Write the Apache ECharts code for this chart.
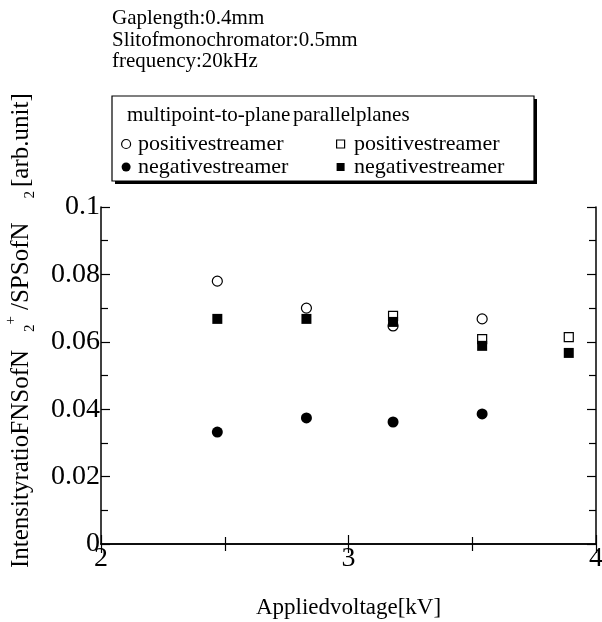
<!DOCTYPE html>
<html>
<head>
<meta charset="utf-8">
<script src="https://cdn.jsdelivr.net/npm/echarts@6/dist/echarts.min.js"></script>
<style>
  html, body { margin: 0; padding: 0; background: #fff; }
  #main { width: 602px; height: 622px; }
</style>
</head>
<body>
<div id="main"></div>
<script>
// 数据
var voltsMulti = [2.47, 2.83, 3.18, 3.54];
var posMulti = [0.078, 0.070, 0.0647, 0.0668];
var negMulti = [0.0332, 0.0374, 0.0362, 0.0386];
var voltsParPos = [3.18, 3.54, 3.89];
var posParallel = [0.0677, 0.0608, 0.0614];
var voltsParNeg = [2.47, 2.83, 3.18, 3.54, 3.89];
var negParallel = [0.0668, 0.0668, 0.0659, 0.0588, 0.0567];
var infoLines = ['Gaplength:0.4mm', 'Slitofmonochromator:0.5mm', 'frequency:20kHz'];

var FONT = 'Liberation Serif';
var SQUARE = 'path://M0,0H10V10H0Z';

function pairs(xs, ys) {
  return xs.map(function (x, i) { return [x, ys[i]]; });
}

var openStyle = { color: '#fff', borderColor: '#000', borderWidth: 1.2, opacity: 1 };
var fillStyle = { color: '#000', borderColor: '#000', borderWidth: 0, opacity: 1 };

var axisCommon = {
  axisLine: { lineStyle: { color: '#000', width: 1.5 } },
  axisTick: { inside: true, length: 9, lineStyle: { color: '#000', width: 1.2 } },
  minorTick: { show: true, splitNumber: 2, length: 7, lineStyle: { color: '#000', width: 1.2 } },
  splitLine: { show: false }
};

var legendText = { fontFamily: FONT, fontSize: 22, color: '#000', lineHeight: 22 };

var chart = echarts.init(document.getElementById('main'));
var option = {
  animation: false,
  backgroundColor: '#fff',
  textStyle: { fontFamily: FONT, color: '#000' },
  grid: { left: 101, top: 207, right: 6, bottom: 78, outerBoundsMode: 'none', containLabel: false },
  xAxis: [
    Object.assign({
      type: 'value', min: 2, max: 4, interval: 1, position: 'bottom',
      name: 'Appliedvoltage[kV]', nameLocation: 'middle', nameGap: 52,
      nameTextStyle: { fontFamily: FONT, fontSize: 23, color: '#000' },
      axisLabel: { fontFamily: FONT, fontSize: 28, color: '#000', margin: 1 }
    }, axisCommon),
    Object.assign({
      type: 'value', min: 2, max: 4, interval: 1, position: 'top',
      axisLabel: { show: false }
    }, axisCommon)
  ],
  yAxis: [
    Object.assign({
      type: 'value', min: 0, max: 0.1, interval: 0.02, position: 'left',
      axisLabel: { fontFamily: FONT, fontSize: 28, color: '#000', margin: 1,
        formatter: function (v) { return v === 0 ? '0' : String(+v.toFixed(2)); } }
    }, axisCommon),
    Object.assign({
      type: 'value', min: 0, max: 0.1, interval: 0.02, position: 'right',
      axisLabel: { show: false }
    }, axisCommon)
  ],
  legend: [
    {
      orient: 'vertical', left: 116, top: 128, itemGap: 1,
      itemWidth: 14, itemHeight: 9, icon: 'circle',
      textStyle: legendText,
      formatter: function (n) { return n.split(' ')[1]; },
      data: [
        { name: 'multi positivestreamer', itemStyle: openStyle },
        { name: 'multi negativestreamer', itemStyle: fillStyle }
      ]
    },
    {
      orient: 'vertical', left: 331, top: 128, itemGap: 1,
      itemWidth: 17, itemHeight: 8, icon: SQUARE, symbolKeepAspect: true,
      textStyle: legendText,
      formatter: function (n) { return n.split(' ')[1]; },
      data: [
        { name: 'parallel positivestreamer', itemStyle: openStyle },
        { name: 'parallel negativestreamer', itemStyle: fillStyle }
      ]
    }
  ],
  graphic: [
    { type: 'rect', z: 0, shape: { x: 115, y: 99, width: 422, height: 85 }, style: { fill: '#000' } },
    { type: 'rect', z: 0, shape: { x: 112, y: 96, width: 422, height: 85 }, style: { fill: '#fff', stroke: '#000', lineWidth: 1.2 } },
    { type: 'text', z: 1, x: 127, y: 115, style: { text: 'multipoint-to-plane', font: '21px "Liberation Serif"', fill: '#000', verticalAlign: 'middle' } },
    { type: 'text', z: 1, x: 293, y: 115, style: { text: 'parallelplanes', font: '21px "Liberation Serif"', fill: '#000', verticalAlign: 'middle' } },
    { type: 'text', z: 1, x: 112, y: 18, style: { text: infoLines[0], font: '21px "Liberation Serif"', fill: '#000', verticalAlign: 'middle' } },
    { type: 'text', z: 1, x: 112, y: 40, style: { text: infoLines[1], font: '21px "Liberation Serif"', fill: '#000', verticalAlign: 'middle' } },
    { type: 'text', z: 1, x: 112, y: 61, style: { text: infoLines[2], font: '21px "Liberation Serif"', fill: '#000', verticalAlign: 'middle' } },
    {
      type: 'text', z: 1, x: 21, y: 568, rotation: Math.PI / 2,
      style: {
        text: '{m|IntensityratioFNSofN}{sub|2}{sup|+}{m|/SPSofN}{sub2|2}{m|[arb.unit]}',
        align: 'left', verticalAlign: 'middle', fill: '#000',
        rich: {
          m: { fontFamily: FONT, fontSize: 25, lineHeight: 34, fill: '#000' },
          sub: { fontFamily: FONT, fontSize: 15, lineHeight: 15, verticalAlign: 'bottom', padding: [0, 0, 0, 18], fill: '#000' },
          sup: { fontFamily: FONT, fontSize: 15, lineHeight: 15, verticalAlign: 'top', padding: [0, 6, 0, 0], fill: '#000' },
          sub2: { fontFamily: FONT, fontSize: 15, lineHeight: 15, verticalAlign: 'bottom', padding: [0, 4, 0, 24], fill: '#000' }
        }
      }
    }
  ],
  series: [
    { name: 'multi positivestreamer', type: 'scatter', symbol: 'circle', symbolSize: 10,
      itemStyle: openStyle, data: pairs(voltsMulti, posMulti) },
    { name: 'multi negativestreamer', type: 'scatter', symbol: 'circle', symbolSize: 11,
      itemStyle: fillStyle, data: pairs(voltsMulti, negMulti) },
    { name: 'parallel positivestreamer', type: 'scatter', symbol: 'rect', symbolSize: 9,
      itemStyle: openStyle, data: pairs(voltsParPos, posParallel) },
    { name: 'parallel negativestreamer', type: 'scatter', symbol: 'rect', symbolSize: 10,
      itemStyle: fillStyle, data: pairs(voltsParNeg, negParallel) }
  ]
};
chart.setOption(option);
</script>
</body>
</html>
